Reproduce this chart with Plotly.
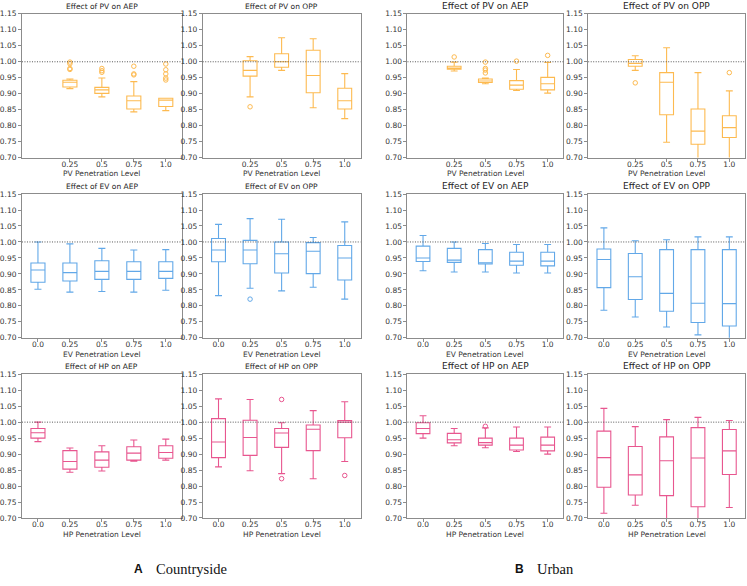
import plotly.graph_objects as go

W, H = 747, 586

LEVELS_ALL = ["0.0", "0.25", "0.5", "0.75", "1.0"]
LEVELS_PV = ["0.25", "0.5", "0.75", "1.0"]

# Each row per level: [lower whisker, q1, median, q3, upper whisker]
CS_PV_AEP = [[0.916, 0.921, 0.936, 0.942, 0.946],
             [0.890, 0.901, 0.912, 0.920, 0.949],
             [0.843, 0.852, 0.878, 0.893, 0.938],
             [0.847, 0.860, 0.880, 0.886, 0.886]]
CS_PV_AEP_OUT = [[0.999, 0.994, 0.979, 0.976], [0.979, 0.972, 0.967],
                 [0.986, 0.962, 0.959], [0.993, 0.975, 0.962, 0.949, 0.943]]
CS_PV_OPP = [[0.890, 0.955, 0.973, 1.003, 1.016],
             [0.973, 0.983, 1.000, 1.025, 1.075],
             [0.856, 0.903, 0.957, 1.036, 1.072],
             [0.822, 0.852, 0.878, 0.917, 0.963]]
CS_PV_OPP_OUT = [[0.859], [], [], []]

CS_EV_AEP = [[0.852, 0.874, 0.912, 0.934, 1.000],
             [0.843, 0.878, 0.904, 0.934, 0.994],
             [0.845, 0.883, 0.908, 0.941, 0.980],
             [0.843, 0.883, 0.908, 0.938, 0.975],
             [0.849, 0.886, 0.908, 0.938, 0.976]]
CS_EV_AEP_OUT = [[], [], [], [], []]
CS_EV_OPP = [[0.832, 0.938, 0.975, 1.011, 1.055],
             [0.855, 0.932, 0.975, 1.005, 1.073],
             [0.847, 0.903, 0.963, 1.000, 1.071],
             [0.858, 0.901, 0.971, 0.998, 1.014],
             [0.821, 0.881, 0.950, 0.989, 1.063]]
CS_EV_OPP_OUT = [[], [0.821], [], [], []]

CS_HP_AEP = [[0.939, 0.950, 0.967, 0.980, 1.000],
             [0.843, 0.853, 0.877, 0.911, 0.919],
             [0.847, 0.859, 0.881, 0.907, 0.926],
             [0.878, 0.881, 0.903, 0.923, 0.944],
             [0.881, 0.887, 0.905, 0.926, 0.947]]
CS_HP_AEP_OUT = [[], [], [], [], []]
CS_HP_OPP = [[0.860, 0.889, 0.938, 1.011, 1.073],
             [0.848, 0.896, 0.952, 1.006, 1.071],
             [0.839, 0.921, 0.966, 0.980, 0.998],
             [0.823, 0.911, 0.978, 0.991, 1.036],
             [0.877, 0.951, 1.000, 1.005, 1.064]]
CS_HP_OPP_OUT = [[], [], [1.071, 0.823], [], [0.833]]

UR_PV_AEP = [[0.971, 0.977, 0.980, 0.986, 0.999],
             [0.931, 0.935, 0.940, 0.946, 0.949],
             [0.910, 0.914, 0.927, 0.941, 0.976],
             [0.902, 0.912, 0.931, 0.951, 0.998]]
UR_PV_AEP_OUT = [[1.015], [0.999, 0.979, 0.974, 0.965], [1.002], [1.020]]
UR_PV_OPP = [[0.973, 0.986, 0.995, 1.007, 1.019],
             [0.748, 0.834, 0.936, 0.966, 1.044],
             [0.680, 0.742, 0.783, 0.852, 0.966],
             [0.680, 0.763, 0.794, 0.831, 0.909]]
UR_PV_OPP_OUT = [[0.934], [], [], [0.966]]

UR_EV_AEP = [[0.910, 0.939, 0.950, 0.987, 1.020],
             [0.906, 0.936, 0.943, 0.980, 1.000],
             [0.906, 0.931, 0.935, 0.976, 0.995],
             [0.903, 0.927, 0.940, 0.968, 0.992],
             [0.903, 0.925, 0.940, 0.968, 0.992]]
UR_EV_AEP_OUT = [[], [], [], [], []]
UR_EV_OPP = [[0.786, 0.857, 0.945, 0.978, 1.044],
             [0.765, 0.820, 0.891, 0.964, 1.004],
             [0.734, 0.783, 0.839, 0.976, 1.007],
             [0.709, 0.748, 0.808, 0.976, 1.016],
             [0.690, 0.737, 0.807, 0.976, 1.016]]
UR_EV_OPP_OUT = [[], [], [], [], []]

UR_HP_AEP = [[0.950, 0.964, 0.980, 0.998, 1.020],
             [0.926, 0.935, 0.945, 0.965, 0.980],
             [0.920, 0.928, 0.936, 0.950, 0.982],
             [0.908, 0.913, 0.928, 0.950, 0.985],
             [0.900, 0.910, 0.928, 0.953, 0.985]]
UR_HP_AEP_OUT = [[], [], [0.987], [], []]
UR_HP_OPP = [[0.715, 0.796, 0.889, 0.972, 1.043],
             [0.740, 0.772, 0.835, 0.924, 0.986],
             [0.690, 0.770, 0.879, 0.954, 1.008],
             [0.690, 0.735, 0.888, 0.983, 1.015],
             [0.733, 0.836, 0.910, 0.977, 1.005]]
UR_HP_OPP_OUT = [[], [], [], [], []]

COLORS = {"PV": "#FDBA50", "EV": "#62A8E8", "HP": "#E8568F"}

# panel pixel geometry (left, right) per column and (top, bottom) per row
COLS = [(21, 181), (202, 360), (407, 563), (588, 745)]
ROWS = [(10, 156), (193, 339), (376, 522)]

panels = [
    (0, 0, "PV", "AEP", CS_PV_AEP, CS_PV_AEP_OUT),
    (0, 1, "PV", "OPP", CS_PV_OPP, CS_PV_OPP_OUT),
    (0, 2, "PV", "AEP", UR_PV_AEP, UR_PV_AEP_OUT),
    (0, 3, "PV", "OPP", UR_PV_OPP, UR_PV_OPP_OUT),
    (1, 0, "EV", "AEP", CS_EV_AEP, CS_EV_AEP_OUT),
    (1, 1, "EV", "OPP", CS_EV_OPP, CS_EV_OPP_OUT),
    (1, 2, "EV", "AEP", UR_EV_AEP, UR_EV_AEP_OUT),
    (1, 3, "EV", "OPP", UR_EV_OPP, UR_EV_OPP_OUT),
    (2, 0, "HP", "AEP", CS_HP_AEP, CS_HP_AEP_OUT),
    (2, 1, "HP", "OPP", CS_HP_OPP, CS_HP_OPP_OUT),
    (2, 2, "HP", "AEP", UR_HP_AEP, UR_HP_AEP_OUT),
    (2, 3, "HP", "OPP", UR_HP_OPP, UR_HP_OPP_OUT),
]

FONT = "DejaVu Sans"
fig = go.Figure()
layout = dict(width=W, height=H, margin=dict(l=0, r=0, t=0, b=0),
              paper_bgcolor="white", plot_bgcolor="white", showlegend=False,
              font=dict(family=FONT, size=8, color="#333"))
annotations = []
shapes = []

for i, (r, c, tech, metric, stats, outs) in enumerate(panels):
    n = i + 1
    xa = "x" if n == 1 else f"x{n}"
    ya = "y" if n == 1 else f"y{n}"
    levels = LEVELS_PV if tech == "PV" else LEVELS_ALL
    pos = list(range(5 - len(levels), 5))
    color = COLORS[tech]
    fig.add_trace(go.Box(
        x=pos,
        lowerfence=[s[0] for s in stats], q1=[s[1] for s in stats],
        median=[s[2] for s in stats], q3=[s[3] for s in stats],
        upperfence=[s[4] for s in stats],
        width=0.44, whiskerwidth=0.5, boxpoints=False,
        line=dict(color=color, width=1.1), fillcolor="rgba(0,0,0,0)",
        xaxis=xa, yaxis=ya, hoverinfo="skip"))
    ox, oy = [], []
    for p, o in zip(pos, outs):
        ox += [p] * len(o)
        oy += o
    if ox:
        fig.add_trace(go.Scatter(
            x=ox, y=oy, mode="markers", xaxis=xa, yaxis=ya,
            marker=dict(symbol="circle-open", size=4.5, color=color,
                        line=dict(width=1, color=color)),
            hoverinfo="skip"))
    x0, x1 = COLS[c]
    y0, y1 = ROWS[r]
    xd = [x0 / W, x1 / W]
    yd = [1 - y1 / H, 1 - y0 / H]
    axcommon = dict(showline=True, mirror=True, linecolor="#8c8c8c", linewidth=1,
                    ticks="outside", ticklen=3, tickcolor="#8c8c8c", showgrid=False,
                    zeroline=False, tickfont=dict(family=FONT, size=7.5, color="#333"))
    layout["xaxis" if n == 1 else f"xaxis{n}"] = dict(
        domain=xd, anchor=ya, range=[-0.5, 4.5], tickmode="array",
        tickvals=pos, ticktext=levels, ticklabelstandoff=-4, **axcommon)
    layout["yaxis" if n == 1 else f"yaxis{n}"] = dict(
        domain=yd, anchor=xa, range=[0.70, 1.15], tickmode="array",
        tickvals=[0.70 + 0.05 * k for k in range(10)], tickformat=".2f", **axcommon)
    shapes.append(dict(type="line", xref=f"{xa} domain", x0=0, x1=1, yref=ya,
                       y0=1.0, y1=1.0, line=dict(color="#444", width=0.9, dash="1px,1.5px")))
    tsize = 7.5 if c < 2 else 9
    annotations.append(dict(text=f"Effect of {tech} on {metric}", x=(x0 + x1) / 2 / W,
                            y=1 - (y0 - 1) / H, xref="paper", yref="paper",
                            xanchor="center", yanchor="bottom", showarrow=False,
                            font=dict(family=FONT, size=tsize, color="#222")))
    annotations.append(dict(text=f"{tech} Penetration Level", x=(x0 + x1) / 2 / W,
                            y=1 - (y1 + 16.5) / H, xref="paper", yref="paper",
                            xanchor="center", yanchor="middle", showarrow=False,
                            font=dict(family=FONT, size=7.5, color="#333")))

annotations.append(dict(text="<b>A</b>", x=131 / W, y=1 - 574 / H, xref="paper", yref="paper",
                        xanchor="left", yanchor="middle", showarrow=False,
                        font=dict(family="Liberation Sans", size=12, color="#111")))
annotations.append(dict(text="Countryside", x=153 / W, y=1 - 574 / H, xref="paper", yref="paper",
                        xanchor="left", yanchor="middle", showarrow=False,
                        font=dict(family="Liberation Serif", size=14.5, color="#111")))
annotations.append(dict(text="<b>B</b>", x=513 / W, y=1 - 574 / H, xref="paper", yref="paper",
                        xanchor="left", yanchor="middle", showarrow=False,
                        font=dict(family="Liberation Sans", size=12, color="#111")))
annotations.append(dict(text="Urban", x=535 / W, y=1 - 574 / H, xref="paper", yref="paper",
                        xanchor="left", yanchor="middle", showarrow=False,
                        font=dict(family="Liberation Serif", size=14.5, color="#111")))

layout["annotations"] = annotations
layout["shapes"] = shapes
fig.update_layout(**layout)
fig.write_html("out.html")
